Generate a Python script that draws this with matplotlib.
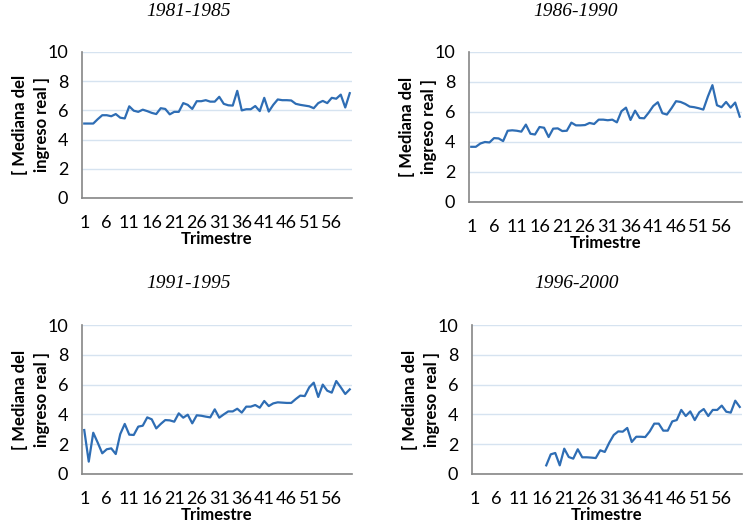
import matplotlib
matplotlib.use("Agg")
import matplotlib.pyplot as plt
import numpy as np

trimestres = list(range(1, 61))
xtick_labels = [str(t) for t in range(1, 57, 5)]

titles = ["1981-1985", "1986-1990", "1991-1995", "1996-2000"]

s1981 = [5.1, 5.1, 5.1, 5.4, 5.67, 5.67, 5.6, 5.75, 5.5, 5.45,
         6.28, 5.98, 5.9, 6.05, 5.95, 5.83, 5.75, 6.15, 6.1, 5.73,
         5.9, 5.9, 6.5, 6.38, 6.1, 6.63, 6.63, 6.7, 6.6, 6.6,
         6.93, 6.45, 6.35, 6.33, 7.34, 6.0, 6.08, 6.08, 6.3, 5.95,
         6.86, 5.92, 6.38, 6.75, 6.7, 6.7, 6.68, 6.45, 6.38, 6.33,
         6.28, 6.15, 6.5, 6.65, 6.5, 6.86, 6.8, 7.08, 6.2, 7.18]

s1986 = [3.68, 3.68, 3.9, 4.0, 3.97, 4.26, 4.24, 4.06, 4.75, 4.78,
         4.75, 4.69, 5.16, 4.55, 4.5, 5.0, 4.95, 4.33, 4.89, 4.91,
         4.73, 4.75, 5.29, 5.11, 5.11, 5.13, 5.27, 5.2, 5.49, 5.49,
         5.45, 5.49, 5.31, 6.05, 6.29, 5.47, 6.09, 5.6, 5.58, 5.96,
         6.4, 6.65, 5.92, 5.83, 6.25, 6.72, 6.67, 6.54, 6.36, 6.32,
         6.25, 6.16, 7.03, 7.79, 6.45, 6.32, 6.67, 6.29, 6.63, 5.69]

s1991 = [2.95, 0.83, 2.77, 2.1, 1.39, 1.66, 1.72, 1.34, 2.68, 3.36,
         2.64, 2.62, 3.18, 3.24, 3.8, 3.67, 3.06, 3.36, 3.62, 3.6,
         3.51, 4.07, 3.78, 3.98, 3.4, 3.94, 3.91, 3.85, 3.8, 4.34,
         3.78, 4.0, 4.2, 4.2, 4.38, 4.12, 4.52, 4.52, 4.63, 4.45,
         4.9, 4.56, 4.74, 4.81, 4.79, 4.77, 4.77, 5.03, 5.26, 5.23,
         5.82, 6.13, 5.17, 6.0, 5.59, 5.46, 6.24, 5.82, 5.37, 5.68]

s1996 = [np.nan] * 16 + [
    0.58, 1.32, 1.41, 0.58, 1.7, 1.14, 1.03, 1.66, 1.12, 1.12,
    1.1, 1.07, 1.59, 1.48, 2.1, 2.62, 2.86, 2.84, 3.09, 2.15,
    2.5, 2.5, 2.48, 2.86, 3.38, 3.38, 2.91, 2.91, 3.53, 3.62,
    4.3, 3.89, 4.2, 3.62, 4.14, 4.36, 3.89, 4.3, 4.3, 4.59,
    4.18, 4.12, 4.92, 4.5]

series = [s1981, s1986, s1991, s1996]

W, H = 750, 527
fig = plt.figure(figsize=(7.5, 5.27), dpi=100)

# pixel boxes: (left, top, right, bottom)
boxes = [(82, 52, 352, 198), (469, 52, 742, 202),
         (82, 325, 352, 474), (472, 325, 742, 474)]
title_pos = [(189, 11), (576, 11), (189, 284), (577, 284)]

sans = ["Lato", "DejaVu Sans"]
grid_c = "#d6e3f0"
spine_c = "#868686"
line_c = "#2e6db4"

for k in range(4):
    l, t, r, b = boxes[k]
    ax = fig.add_axes([l / W, 1 - b / H, (r - l) / W, (b - t) / H])
    ax.plot(trimestres, series[k], color=line_c, lw=1.6)
    ax.set_xlim(0.5, 60.5)
    ax.set_ylim(0, 10)
    ax.set_yticks(range(0, 11, 2))
    ax.set_yticklabels([str(v) for v in range(0, 11, 2)], family=sans, fontsize=13)
    ax.set_xticks(range(1, 57, 5))
    ax.set_xticklabels(xtick_labels, family=sans, fontsize=13)
    ax.tick_params(axis="both", length=0)
    ax.tick_params(axis="x", pad=12)
    ax.tick_params(axis="y", pad=10)
    ax.grid(axis="y", color=grid_c, lw=1)
    ax.set_axisbelow(True)
    for s in ["top", "right"]:
        ax.spines[s].set_visible(False)
    for s in ["left", "bottom"]:
        ax.spines[s].set_color(spine_c)
        ax.spines[s].set_linewidth(1.2)
    ax.set_xlabel("Trimestre", family=sans, fontsize=12, fontweight="bold", labelpad=0)
    ax.set_ylabel("[ Mediana del\ningreso real ]", family=sans, fontsize=12,
                  fontweight="bold", linespacing=1.45)
    ax.yaxis.label.set_va("center")
    ax.yaxis.set_label_coords(-51 / (r - l), 0.5)
    tx, ty = title_pos[k]
    fig.text(tx / W, 1 - ty / H, titles[k], ha="center", va="center",
             family=["Liberation Serif", "DejaVu Serif"], style="italic", fontsize=14)

fig.savefig("out.png", dpi=100)
